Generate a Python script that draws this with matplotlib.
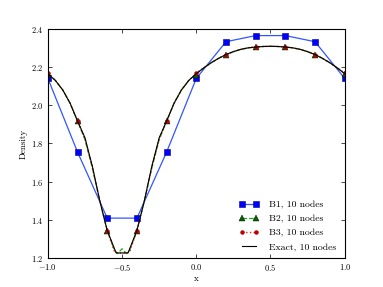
import matplotlib
matplotlib.use("Agg")
import matplotlib.pyplot as plt
from matplotlib.lines import Line2D

plt.rcParams.update({
    "font.family": "serif",
    "font.serif": ["cmr10", "DejaVu Serif"],
    "mathtext.fontset": "cm",
    "axes.formatter.use_mathtext": True,
    "font.size": 6.5,
    "xtick.direction": "in",
    "ytick.direction": "in",
    "xtick.top": True,
    "ytick.right": True,
    "axes.linewidth": 0.8,
})

# nodes
x_nodes = [-1.0, -0.8, -0.6, -0.4, -0.2, 0.0, 0.2, 0.4, 0.6, 0.8, 1.0]
b1_nodes = [2.14, 1.755, 1.41, 1.41, 1.755, 2.14, 2.332, 2.364, 2.364, 2.332, 2.14]
b2_nodes = [2.165, 1.917, 1.345, 1.345, 1.917, 2.16, 2.265, 2.304, 2.304, 2.265, 2.165]
b3_nodes = [2.168, 1.917, 1.345, 1.345, 1.917, 2.168, 2.265, 2.305, 2.305, 2.265, 2.168]

# fine curves
x_fine = [-1.0, -0.95, -0.9, -0.85, -0.8, -0.75, -0.7, -0.65, -0.6, -0.55, -0.53, -0.5,
          -0.47, -0.45, -0.4, -0.35, -0.3, -0.25, -0.2, -0.15, -0.1, -0.05, 0.0,
          0.05, 0.1, 0.15, 0.2, 0.25, 0.3, 0.35, 0.4, 0.45, 0.5, 0.55, 0.6, 0.65,
          0.7, 0.75, 0.8, 0.85, 0.9, 0.95, 1.0]
b2_fine = [2.165, 2.13, 2.08, 2.01, 1.917, 1.82, 1.67, 1.50, 1.345, 1.24, 1.225, 1.25,
           1.225, 1.24, 1.345, 1.50, 1.67, 1.82, 1.917, 2.01, 2.08, 2.13, 2.163,
           2.195, 2.222, 2.245, 2.265, 2.28, 2.292, 2.30, 2.304, 2.307, 2.308, 2.307, 2.304, 2.30,
           2.292, 2.28, 2.265, 2.245, 2.222, 2.195, 2.165]
b3_fine = [2.168, 2.13, 2.08, 2.01, 1.917, 1.825, 1.675, 1.50, 1.345, 1.232, 1.228, 1.228,
           1.228, 1.232, 1.345, 1.50, 1.675, 1.825, 1.917, 2.01, 2.08, 2.13, 2.168,
           2.195, 2.222, 2.245, 2.265, 2.28, 2.292, 2.30, 2.305, 2.307, 2.308, 2.307, 2.305, 2.30,
           2.292, 2.28, 2.265, 2.245, 2.222, 2.195, 2.168]

x_exact = [-1.0, -0.95, -0.9, -0.85, -0.8, -0.75, -0.7, -0.65, -0.6, -0.54, -0.46,
           -0.4, -0.35, -0.3, -0.25, -0.2, -0.15, -0.1, -0.05, 0.0,
           0.05, 0.1, 0.15, 0.2, 0.25, 0.3, 0.35, 0.4, 0.45, 0.5, 0.55, 0.6, 0.65,
           0.7, 0.75, 0.8, 0.85, 0.9, 0.95, 1.0]
exact = [2.165, 2.13, 2.08, 2.01, 1.917, 1.83, 1.68, 1.50, 1.345, 1.228, 1.228,
         1.345, 1.50, 1.68, 1.83, 1.917, 2.01, 2.08, 2.13, 2.165,
         2.195, 2.222, 2.245, 2.265, 2.28, 2.292, 2.30, 2.304, 2.307, 2.308, 2.307, 2.304, 2.30,
         2.292, 2.28, 2.265, 2.245, 2.222, 2.195, 2.165]

labels = ["B1, 10 nodes", "B2, 10 nodes", "B3, 10 nodes", "Exact, 10 nodes"]

fig = plt.figure(figsize=(3.83, 2.87), dpi=100)
ax = fig.add_axes([0.125, 0.1, 0.775, 0.8])

blue = "#0000ff"
green = "#006400"
red = "#bb0000"

ax.plot(x_nodes, b1_nodes, color="#3355ff", lw=0.9, marker="s", ms=5,
        mfc=blue, mec="#000088", mew=0.4)
ax.plot(x_fine, b2_fine, color="#22aa22", lw=0.9, ls="--")
ax.plot(x_nodes, b2_nodes, ls="none", marker="^", ms=4, mfc=green, mec="black", mew=0.3)
ax.plot(x_fine, b3_fine, color="#ee2222", lw=1.0, ls=":")
ax.plot(x_nodes, b3_nodes, ls="none", marker="o", ms=2.2, mfc=red, mec=red)
ax.plot(x_exact, exact, color="black", lw=0.8)

h1 = Line2D([], [], color="#3355ff", lw=0.9, marker="s", ms=5, mfc=blue, mec="#000088", mew=0.4)
h2 = Line2D([], [], color="#22aa22", lw=0.9, ls="--", marker="^", ms=4, mfc=green, mec="black", mew=0.3)
h3 = Line2D([], [], color="#ee2222", lw=1.0, ls=":", marker="o", ms=2.2, mfc=red, mec=red)
h4 = Line2D([], [], color="black", lw=0.8)
ax.legend([h1, h2, h3, h4], labels, loc="lower right", frameon=False, numpoints=2,
          handlelength=2.0, handletextpad=1.0, fontsize=7, bbox_to_anchor=(1.0, -0.01),
          labelspacing=0.55)

ax.set_xlim(-1.0, 1.0)
ax.set_ylim(1.2, 2.4)
ax.set_xticks([-1.0, -0.5, 0.0, 0.5, 1.0])
ax.set_yticks([1.2, 1.4, 1.6, 1.8, 2.0, 2.2, 2.4])
ax.tick_params(length=3, width=0.5, labelsize=6)
ax.tick_params(axis="y", pad=3)
ax.tick_params(axis="x", pad=3)
ax.set_xlabel("x", fontsize=6.5, labelpad=1)
ax.set_ylabel("Density", fontsize=6.5, labelpad=3)

fig.savefig("out.png", dpi=100)
